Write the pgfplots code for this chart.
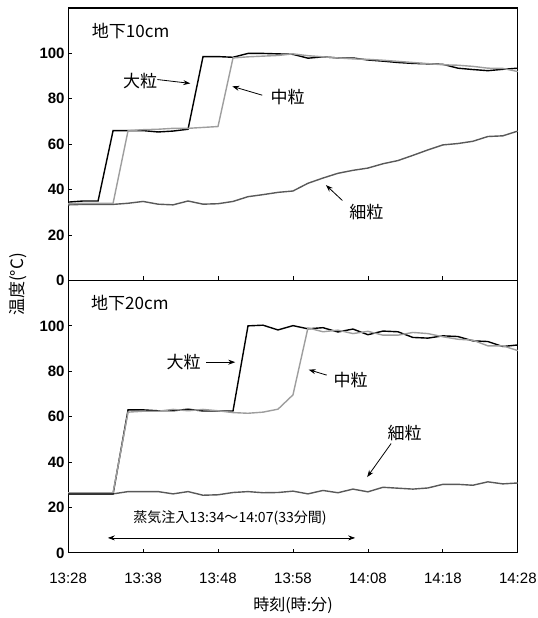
\documentclass[border=0pt]{standalone}
\usepackage{pgfplots}
\pgfplotsset{compat=1.18}
\usepackage{fontspec}
\setmainfont{Liberation Sans}
\newfontfamily\jp{Noto Sans CJK JP}
\usetikzlibrary{arrows.meta}
\definecolor{large}{gray}{0}
\definecolor{med}{gray}{0.62}
\definecolor{fine}{gray}{0.35}
\pgfplotsset{
 panel/.style={
  scale only axis, width=449bp, height=272bp,
  xmin=0, xmax=60, ymin=0, ymax=120,
  xtick={0,10,...,60}, ytick={0,20,...,100},
  tick align=inside, xtick pos=lower, ytick pos=left,
  major tick length=4bp,
  axis line style={line width=1.1bp},
  tick style={black, line width=0.8bp},
  /pgf/number format/assume math mode=true,
  yticklabel style={font=\fontsize{15bp}{15bp}\selectfont\bfseries},
  xticklabel style={font=\fontsize{15bp}{15bp}\selectfont, yshift=-17bp},
  every axis plot/.append style={line width=1.4bp, mark=none},
 },
}
\tikzset{
 ann/.style={font=\jp\fontsize{17bp}{17bp}\selectfont},
 arr/.style={-{Stealth[length=7bp,width=5bp]}, line width=0.8bp},
}
\begin{document}
\begin{tikzpicture}
% ---------- 10 cm ----------
\begin{axis}[panel, name=top, xticklabels={}]
\addplot[fine] coordinates {(0,33.3)(2,33.5)(4,33.5)(6,33.5)(8,34)(10,34.8)(12,33.6)(14,33.3)(16,35)(18,33.6)(20,33.8)(22,34.8)(24,36.9)(26,37.8)(28,38.8)(30,39.4)(32,42.8)(34,45.1)(36,47.2)(38,48.5)(40,49.5)(42,51.4)(44,52.8)(46,55.1)(48,57.5)(50,59.7)(52,60.3)(54,61.3)(56,63.4)(58,63.7)(60,65.8)};
\addplot[large] coordinates {(0,34.5)(2,35)(4,35)(6,66)(8,66)(10,66)(12,65.4)(14,65.8)(16,66.6)(18,98.6)(20,98.6)(22,98.3)(24,100)(26,100)(28,99.8)(30,99.6)(32,97.9)(34,98.5)(36,98)(38,98)(40,97.1)(42,96.6)(44,96)(46,95.6)(48,95.4)(50,95.2)(52,93.5)(54,92.9)(56,92.4)(58,93)(60,93.5)};
\addplot[med] coordinates {(0,33.8)(2,34)(4,34)(6,34)(8,66)(10,66.4)(12,66.6)(14,67)(16,67)(18,67.4)(20,67.8)(22,98)(24,98.5)(26,98.8)(28,99.1)(30,99.8)(32,99)(34,98.5)(36,98)(38,97.6)(40,97.4)(42,97)(44,96.5)(46,96)(48,95.5)(50,95)(52,94.8)(54,94.3)(56,93.5)(58,93.4)(60,92)};
\node[ann, anchor=west] at (axis cs:2.7,110) {地下10cm};
\node[ann] at (axis cs:9.6,88) {大粒};
\draw[arr] (axis cs:11.9,88.5) -- (axis cs:16.3,86.8);
\node[ann] at (axis cs:29.3,80.6) {中粒};
\draw[arr] (axis cs:25.9,81.6) -- (axis cs:21.9,85.5);
\node[ann] at (axis cs:39.8,30) {細粒};
\draw[arr] (axis cs:36.6,35.2) -- (axis cs:34.4,42);
\end{axis}
% ---------- 20 cm ----------
\begin{axis}[panel, name=bot, at={(top.south west)}, anchor=north west,
  xticklabels={13:28,13:38,13:48,13:58,14:08,14:18,14:28}]
\addplot[fine] coordinates {(0,26)(2,26)(4,26)(6,26)(8,27)(10,27)(12,27)(14,26)(16,27)(18,25.4)(20,25.6)(22,26.6)(24,27)(26,26.5)(28,26.6)(30,27.2)(32,26)(34,27.5)(36,26.5)(38,28.1)(40,26.9)(42,28.9)(44,28.5)(46,28.1)(48,28.6)(50,30.2)(52,30.2)(54,29.8)(56,31.3)(58,30.4)(60,30.8)};
\addplot[large] coordinates {(0,26)(2,26)(4,26)(6,26)(8,63)(10,63)(12,62.6)(14,62.6)(16,63.3)(18,62.5)(20,62.5)(22,62.5)(24,100)(26,100.3)(28,98.2)(30,100.1)(32,98.7)(34,99.2)(36,97.3)(38,98.6)(40,96.1)(42,97.7)(44,97.4)(46,94.9)(48,94.6)(50,95.6)(52,95.3)(54,93.4)(56,93.1)(58,90.9)(60,91.6)};
\addplot[med] coordinates {(0,26.5)(2,26.5)(4,26.5)(6,26.5)(8,62)(10,62.4)(12,62.4)(14,63.2)(16,62.6)(18,63.2)(20,62.6)(22,61.8)(24,61.5)(26,62)(28,63.3)(30,69.6)(32,99.1)(34,97.4)(36,98.1)(38,96.6)(40,97.6)(42,95.9)(44,95.9)(46,97.1)(48,96.6)(50,95.2)(52,94.1)(54,93.7)(56,91.2)(58,91.2)(60,89.1)};
\node[ann, anchor=west] at (axis cs:2.6,110) {地下20cm};
\node[ann] at (axis cs:15.4,84) {大粒};
\draw[arr] (axis cs:18.4,84) -- (axis cs:22.3,84);
\node[ann] at (axis cs:37.7,76) {中粒};
\draw[arr] (axis cs:34.5,78.3) -- (axis cs:32.1,80.7);
\node[ann] at (axis cs:44.9,53) {細粒};
\draw[arr] (axis cs:43.1,48.2) -- (axis cs:39.9,33.4);
\node[font=\jp\fontsize{14bp}{14bp}\selectfont] at (axis cs:21.6,15.4) {蒸気注入13:34～14:07(33分間)};
\draw[{Stealth[length=7bp,width=5bp]}-{Stealth[length=7bp,width=5bp]}, line width=0.8bp] (axis cs:5.3,6.6) -- (axis cs:38.3,6.6);
\end{axis}
\node[rotate=90, font=\jp\fontsize{17bp}{17bp}\selectfont] at ([xshift=-50bp,yshift=-4bp]top.south west) {温度(°C)};
\node[font=\jp\fontsize{16bp}{16bp}\selectfont] at ([yshift=-52bp]bot.south) {時刻(時:分)};
\pgfresetboundingbox
\path ([shift={(-68bp,-65bp)}]bot.south west) rectangle ([shift={(20bp,8bp)}]top.north east);
\end{tikzpicture}
\end{document}
